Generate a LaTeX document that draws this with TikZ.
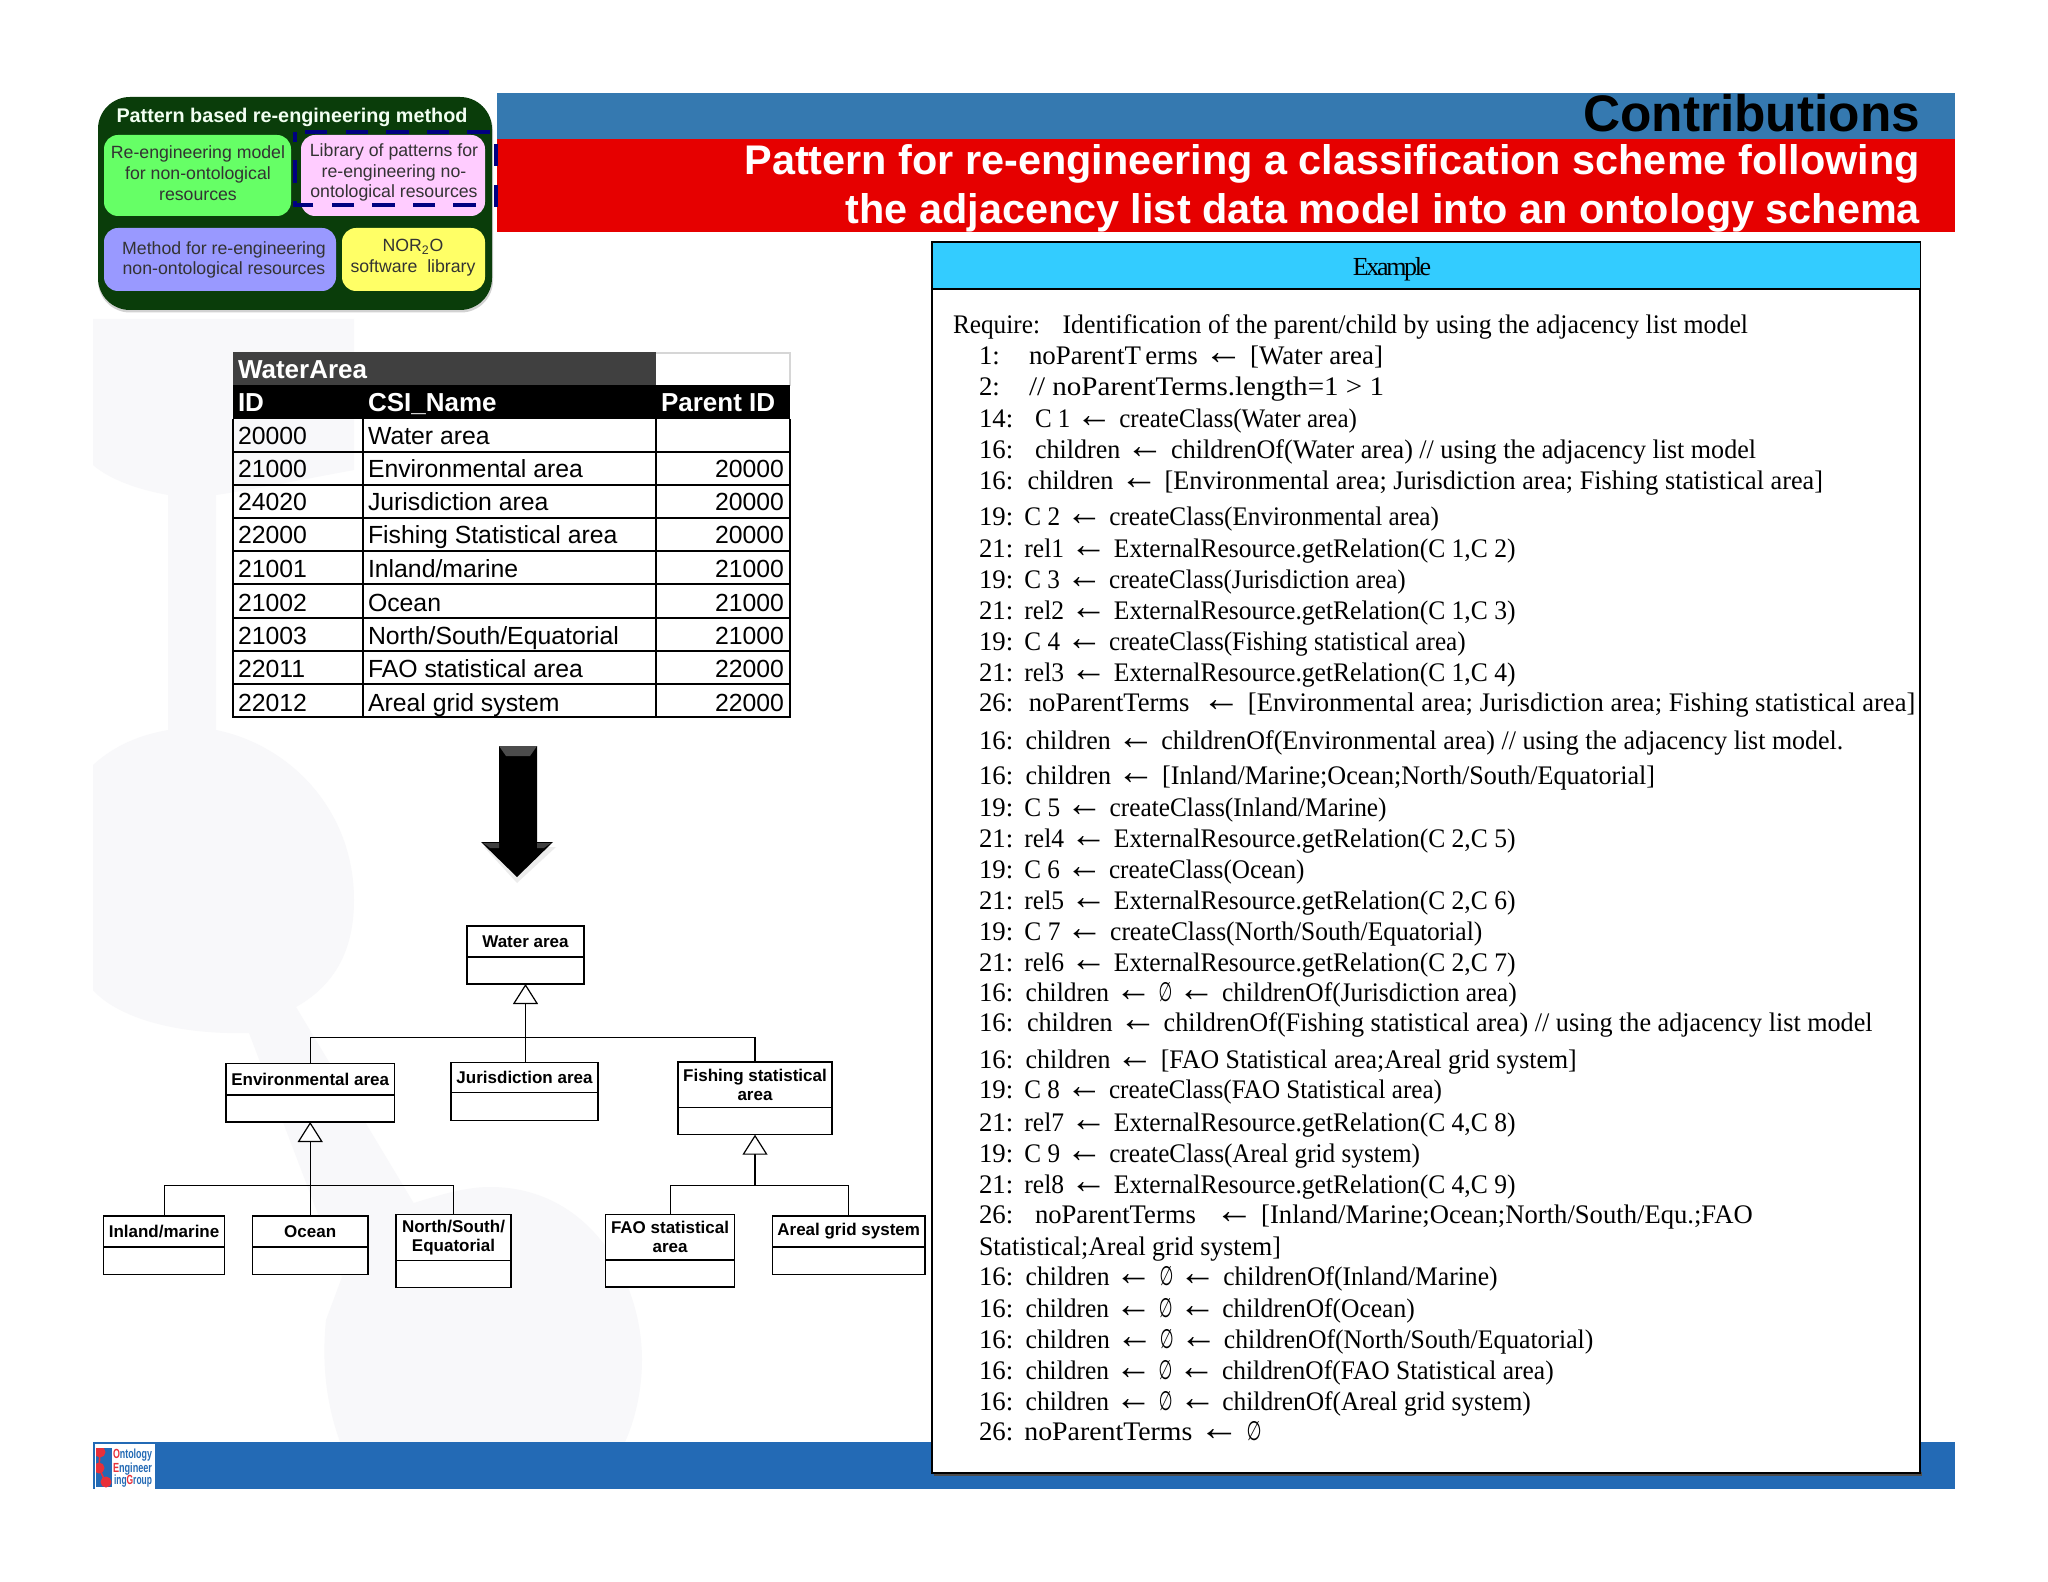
\documentclass[tikz,border=0pt]{standalone}
\usepackage{fontspec}
\usepackage{graphicx}
\usetikzlibrary{arrows.meta,calc}
\setmainfont{Liberation Serif}
\setsansfont{Liberation Sans}
\newfontfamily\symfont{DejaVu Sans}
\newfontfamily\tightserif[LetterSpace=-9]{Liberation Serif}
\definecolor{barblue}{HTML}{3579B0}
\definecolor{barred}{HTML}{E60000}
\definecolor{footblue}{HTML}{236AB5}
\definecolor{badgegreen}{HTML}{0A3D0A}
\definecolor{boxgreen}{HTML}{66FF66}
\definecolor{boxpink}{HTML}{FFCCFF}
\definecolor{boxblue}{HTML}{9999FF}
\definecolor{boxyellow}{HTML}{FFFF66}
\definecolor{navydash}{HTML}{000080}
\definecolor{sky}{HTML}{33CCFF}
\definecolor{wmark}{HTML}{F8F8FA}
\definecolor{boxink}{HTML}{333333}
\definecolor{logored}{HTML}{E8303A}
\tikzset{
  ptext/.style={inner sep=0pt,outer sep=0pt},
  badgetext/.style={ptext,font=\sffamily\fontsize{8.85}{10.4}\selectfont,text=boxink,align=center},
  badgebox/.style={rounded corners=7pt,draw=none},
  tabletext/.style={ptext,font=\sffamily\fontsize{12.4}{14}\selectfont,anchor=base west},
  tablehead/.style={tabletext,font=\sffamily\bfseries\fontsize{13}{14}\selectfont,text=white},
  tablerule/.style={line width=1pt,draw=black},
  umlbox/.style={draw=black,line width=0.65pt,fill=white,inner sep=0pt,outer sep=0pt},
  umltext/.style={ptext,font=\sffamily\bfseries\fontsize{8.5}{9.6}\selectfont,align=center},
  umlline/.style={draw=black,line width=0.55pt},
  gen/.style={umlline,-{Triangle[open,fill=white,length=10pt,width=12.5pt,line width=0.6pt]}},
  algtext/.style={ptext,font=\fontsize{13.4}{15}\selectfont,anchor=base west},
  titletext/.style={ptext,font=\sffamily\bfseries,anchor=base east}
}
\newcounter{cnt}
\newcommand{\esym}{{\symfont\scalebox{0.62}[1]{∅}}}
\newcommand{\la}{\scalebox{1.45}{←}}
\newcommand{\algl}[5]{% y, number, start, end, text
  \stepcounter{cnt}%
  \node[algtext] (num\thecnt) at (979,#1) {#2};
  \pgfmathsetmacro{\lw}{(#4-#3)*0.5}%
  \node[algtext] (body\thecnt) at (#3,#1) {\resizebox{\lw pt}{\height}{#5}};
}
\newcommand{\umlcls}[7]{% name,x1,x2,y1,y2,y3,text
  \pgfmathsetmacro{\cw}{(#3-#2)*0.5}%
  \pgfmathsetmacro{\ch}{(#6-#4)*0.5}%
  \pgfmathsetmacro{\cx}{(#2+#3)/2}%
  \pgfmathsetmacro{\cy}{(#4+#6)/2}%
  \pgfmathsetmacro{\ty}{(#4+#5)/2}%
  \node[umlbox,minimum width=\cw pt,minimum height=\ch pt] (#1) at (\cx,\cy) {};
  \draw[umlline] (#2,#5) -- (#3,#5);
  \node[umltext] (#1T) at (\cx,\ty) {#7};
}
\newcommand{\trow}[4]{% y, id, name, parent
  \stepcounter{cnt}%
  \node[tabletext] (tid\thecnt) at (238,#1) {#2};
  \node[tabletext] (tname\thecnt) at (368,#1) {#3};
  \node[tabletext,anchor=base east] (tpar\thecnt) at (784,#1) {#4};
}
\begin{document}
\begin{tikzpicture}[x=0.5pt,y=-0.5pt]
\useasboundingbox (0,0) rectangle (2048,1582);
\fill[white] (0,0) rectangle (2048,1582);
% watermark
\fill[wmark] (93,319) -- (354,319) -- (354,470) .. controls (300,480) and (250,490) .. (216,495)
  -- (216,730) .. controls (290,745) and (354,810) .. (354,900)
  .. controls (354,950) and (335,985) .. (296,1007) -- (413.6,1203)
  .. controls (440,1195) and (465,1187) .. (490,1187)
  .. controls (590,1187) and (642,1280) .. (642,1360) .. controls (642,1390) and (635,1420) .. (625,1442)
  -- (340,1442) .. controls (325,1400) and (322,1360) .. (326,1320) -- (342,1277) -- (249,1033)
  .. controls (170,1035) and (115,1015) .. (93,990) -- (93,765)
  .. controls (115,745) and (140,735) .. (168,730) -- (168,495)
  .. controls (140,490) and (110,480) .. (93,465) -- cycle;
% header bars
\fill[barblue] (497,93) rectangle (1955,139);
\fill[barred] (497,139) rectangle (1955,232);
\node[titletext,font=\sffamily\bfseries\fontsize{25.7}{28}\selectfont,text=black] (contrib) at (1920,131.5) {Contributions};
\node[titletext,font=\sffamily\bfseries\fontsize{20.7}{23}\selectfont,text=white] (sub1) at (1920,175) {Pattern for re-engineering a classification scheme following};
\node[titletext,font=\sffamily\bfseries\fontsize{20.7}{23}\selectfont,text=white] (sub2) at (1920,224) {the adjacency list data model into an ontology schema};
% footer
\fill[footblue] (93,1442) rectangle (1955,1489);
\fill[white] (95,1444) rectangle (155,1489);
\fill[footblue] (96,1448) rectangle (112,1487);
\begin{scope}
\clip (96,1448) rectangle (112,1487);
\draw[logored,line width=0.8pt] (100,1452) -- (99,1468) -- (106,1483);
\fill[logored] (100,1452) circle[radius=5.5] (99,1468) circle[radius=5.5] (106,1482) circle[radius=5.5];
\end{scope}
\node[ptext,font=\sffamily\bfseries\fontsize{6.6}{7}\selectfont,text=footblue,anchor=base west] (lg1) at (113,1458) {\resizebox{19.5pt}{\height}{\textcolor{logored}{O}ntology}};
\node[ptext,font=\sffamily\bfseries\fontsize{6.6}{7}\selectfont,text=footblue,anchor=base west] (lg2) at (113,1472) {\resizebox{19.5pt}{\height}{\textcolor{logored}{E}ngineer}};
\node[ptext,font=\sffamily\bfseries\fontsize{6.6}{7}\selectfont,text=footblue,anchor=base west] (lg3) at (114,1484) {\resizebox{19pt}{\height}{ing\textcolor{logored}{G}roup}};
% badge
\fill[black!35,opacity=0.5,rounded corners=16pt] (98,99) rectangle (493,312.5);
\fill[badgegreen,rounded corners=16pt] (98,97) rectangle (492,310);
\node[ptext,font=\sffamily\bfseries\fontsize{9.9}{11}\selectfont,text=white!95!green,anchor=base] (btitle) at (292,123) {Pattern based re-engineering method};
\fill[boxgreen,badgebox] (104,135) rectangle (291,216);
\fill[boxpink,badgebox] (301,135) rectangle (485,216);
\fill[boxblue,badgebox] (104,228) rectangle (336,291);
\fill[boxyellow,badgebox] (342,228) rectangle (485,291);
\node[badgetext] (b1) at (198,173) {Re-engineering model\\for non-ontological\\resources};
\node[badgetext] (b2) at (394,172.5) {Library of patterns for\\re-engineering no-\\ontological resources};
\node[badgetext] (b3) at (224,260) {Method for re-engineering\\non-ontological resources};
\node[badgetext] (b4) at (413,258) {NOR\textsubscript{2}O\\software\ \ library};
\draw[navydash,line width=2.4pt,dash pattern=on 11.2pt off 9.1pt]
  (305,132) -- (496,132) -- (496,205) -- (295,205) -- (295,132);
% table
\fill[black!16] (233,352) rectangle (791,386);
\fill[white] (655,354) rectangle (789,386);
\fill[black!75] (233,352.5) rectangle (655.5,385);
\fill[black] (233,385) rectangle (790,419.3);
\foreach \ly in {451.7,485,517.7,551,584.3,617.7,651,684.3,717.3}
  \draw[tablerule] (233,\ly) -- (790,\ly);
\draw[tablerule] (233,419) -- (233,717.8);
\draw[tablerule] (363,419) -- (363,717.8);
\draw[tablerule] (655.5,419) -- (655.5,717.8);
\draw[tablerule] (790,419) -- (790,717.8);
\node[tablehead] (tabtitle) at (238,379) {WaterArea};
\node[tablehead] (hid) at (238,412) {ID};
\node[tablehead] (hname) at (368,412) {CSI\_Name};
\node[tablehead] (hpar) at (661,412) {Parent ID};
\trow{445}{20000}{Water area}{}
\trow{478}{21000}{Environmental area}{20000}
\trow{511}{24020}{Jurisdiction area}{20000}
\trow{544}{22000}{Fishing Statistical area}{20000}
\trow{577.5}{21001}{Inland/marine}{21000}
\trow{611}{21002}{Ocean}{21000}
\trow{644.5}{21003}{North/South/Equatorial}{21000}
\trow{677.5}{22011}{FAO statistical area}{22000}
\trow{711}{22012}{Areal grid system}{22000}
% big arrow
\fill[black!10,opacity=0.7] (484,847) -- (517,883) -- (556,847) -- cycle;
\fill[black] (499,746) -- (537,746) -- (537,842) -- (553,842) -- (517,877) -- (481,842) -- (499,842) -- cycle;
\fill[black!70] (499,746) -- (537,746) -- (530,756) -- (506,756) -- cycle;
\fill[black!75] (483,843) -- (499,843) -- (499,848) -- (490,848) -- cycle;
\fill[black!75] (551,843) -- (537,843) -- (537,848) -- (544,848) -- cycle;
% UML
\umlcls{water}{467}{584}{926}{957}{984}{Water area}
\umlcls{env}{226}{394.4}{1063.7}{1095}{1122}{Environmental area}
\umlcls{jur}{451}{598}{1062.3}{1092.7}{1120.7}{Jurisdiction area}
\umlcls{fish}{678}{832}{1062}{1107.3}{1134.7}{Fishing statistical\\area}
\umlcls{inland}{103.7}{224.4}{1216}{1247}{1274.3}{Inland/marine}
\umlcls{ocean}{252.4}{368}{1216}{1247}{1274.3}{Ocean}
\umlcls{north}{396}{511}{1214.7}{1260.3}{1287.3}{North/South/\\Equatorial}
\umlcls{fao}{605.6}{734.5}{1214.3}{1260}{1287}{FAO statistical\\area}
\umlcls{areal}{772.4}{925}{1216}{1247}{1274.3}{Areal grid system}
\coordinate (busA) at (water.south |- 0,1037.3);
\coordinate (busB) at (env.south |- 0,1185.3);
\coordinate (busC) at (fish.south |- 0,1185.3);
\draw[umlline] (env.north) |- (busA);
\draw[umlline] (fish.north) |- (busA);
\draw[umlline] (jur.north -| busA) -- (busA);
\draw[gen,line width=0.8pt] (busA) -- (water.south);
\draw[umlline] (inland.north) |- (busB);
\draw[umlline] (north.north) |- (busB);
\draw[umlline] (ocean.north -| busB) -- (busB);
\draw[gen] (busB) -- (env.south);
\draw[umlline] (fao.north) |- (busC);
\draw[umlline] (areal.north) |- (busC);
\draw[gen] (busC) -- (fish.south);
% panel
\fill[black!70] (934,1472) rectangle (1922,1476);
\node[draw=black,line width=0.6pt,fill=white,minimum width=494pt,minimum height=615.5pt,inner sep=0pt,outer sep=0pt] (panel) at (1426,857.5) {};
\fill[sky,draw=black,line width=0.6pt] (932,242) rectangle (1920.4,289);
\node[ptext,font=\tightserif\fontsize{13}{15}\selectfont,anchor=base] (extitle) at (1392,276) {Example};
\node[algtext] (req) at (953,333.3) {\resizebox{43.5pt}{\height}{Require:}};
\algl{333.3}{}{1062.6}{1748}{Identification of the parent/child by using the adjacency list model}
\algl{365}{1:}{1029}{1383}{noParentT\,erms \la{} [Water area]}
\algl{395.7}{2:}{1029}{1384}{// noParentTerms.length=1 > 1}
\algl{427.3}{14:}{1035}{1357}{C 1 \la{} createClass(Water area)}
\algl{458.7}{16:}{1035}{1756}{children \la{} childrenOf(Water area) // using the adjacency list model}
\algl{489.3}{16:}{1027.6}{1823}{children \la{} [Environmental area; Jurisdiction area; Fishing statistical area]}
\algl{525.7}{19:}{1024.4}{1439}{C 2 \la{} createClass(Environmental area)}
\algl{557.3}{21:}{1024.4}{1515.5}{rel1 \la{} ExternalResource.getRelation(C 1,C 2)}
\algl{588.3}{19:}{1024.4}{1405.8}{C 3 \la{} createClass(Jurisdiction area)}
\algl{619.3}{21:}{1024.4}{1515.5}{rel2 \la{} ExternalResource.getRelation(C 1,C 3)}
\algl{650}{19:}{1024.4}{1465.7}{C 4 \la{} createClass(Fishing statistical area)}
\algl{681.3}{21:}{1024.4}{1515.5}{rel3 \la{} ExternalResource.getRelation(C 1,C 4)}
\algl{711.3}{26:}{1028.9}{1915.3}{noParentTerms\ \ \la{} [Environmental area; Jurisdiction area; Fishing statistical area]}
\algl{749}{16:}{1025.7}{1843.3}{children \la{} childrenOf(Environmental area) // using the adjacency list model.}
\algl{784.3}{16:}{1025.7}{1655}{children \la{} [Inland/Marine;Ocean;North/South/Equatorial]}
\algl{816.7}{19:}{1024.4}{1386.6}{C 5 \la{} createClass(Inland/Marine)}
\algl{847.7}{21:}{1024.4}{1515.5}{rel4 \la{} ExternalResource.getRelation(C 2,C 5)}
\algl{878.3}{19:}{1024.4}{1304.4}{C 6 \la{} createClass(Ocean)}
\algl{909}{21:}{1024.4}{1515.5}{rel5 \la{} ExternalResource.getRelation(C 2,C 6)}
\algl{940}{19:}{1024.4}{1482.3}{C 7 \la{} createClass(North/South/Equatorial)}
\algl{971}{21:}{1024.4}{1515.5}{rel6 \la{} ExternalResource.getRelation(C 2,C 7)}
\algl{1001.7}{16:}{1025.7}{1516.7}{children \la{} \esym{} \la{} childrenOf(Jurisdiction area)}
\algl{1031.7}{16:}{1027}{1872.6}{children \la{} childrenOf(Fishing statistical area) // using the adjacency list model}
\algl{1068.3}{16:}{1025.7}{1576.7}{children \la{} [FAO Statistical area;Areal grid system]}
\algl{1098}{19:}{1024.4}{1442}{C 8 \la{} createClass(FAO Statistical area)}
\algl{1131.7}{21:}{1024.4}{1515.5}{rel7 \la{} ExternalResource.getRelation(C 4,C 8)}
\algl{1162.7}{19:}{1024.4}{1420}{C 9 \la{} createClass(Areal grid system)}
\algl{1193.3}{21:}{1024.4}{1515.5}{rel8 \la{} ExternalResource.getRelation(C 4,C 9)}
\algl{1223.3}{26:}{1035}{1752.7}{noParentTerms\ \ \ \la{} [Inland/Marine;Ocean;North/South/Equ.;FAO}
\algl{1255}{}{979}{1280.8}{Statistical;Areal grid system]}
\algl{1285.7}{16:}{1025.7}{1497.6}{children \la{} \esym{} \la{} childrenOf(Inland/Marine)}
\algl{1317.3}{16:}{1025.7}{1414.7}{children \la{} \esym{} \la{} childrenOf(Ocean)}
\algl{1348.3}{16:}{1025.7}{1593.3}{children \la{} \esym{} \la{} childrenOf(North/South/Equatorial)}
\algl{1379.3}{16:}{1025.7}{1553.7}{children \la{} \esym{} \la{} childrenOf(FAO Statistical area)}
\algl{1410}{16:}{1025.7}{1530.8}{children \la{} \esym{} \la{} childrenOf(Areal grid system)}
\algl{1440.7}{26:}{1024.4}{1261.6}{noParentTerms \la{} \esym{}}
\end{tikzpicture}
\end{document}
